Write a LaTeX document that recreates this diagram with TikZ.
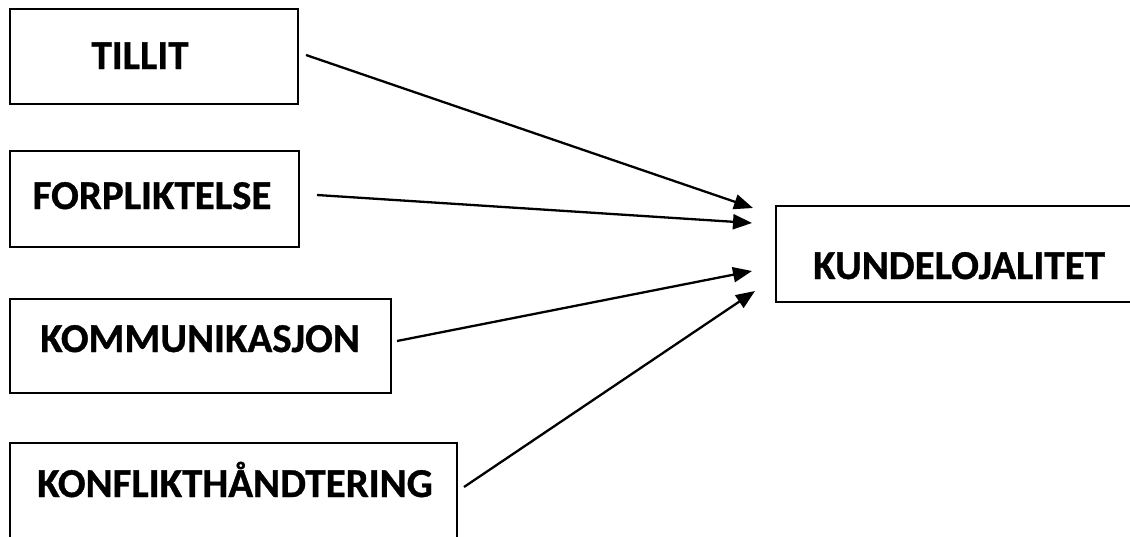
\documentclass[tikz,border=0pt]{standalone}
\usepackage{fontspec}
\setmainfont{Carlito}[BoldFeatures={FakeBold=0.8}]
\usetikzlibrary{arrows.meta}
\begin{document}
\begin{tikzpicture}[x=1pt,y=-1pt,
  box/.style={draw=black,line width=2.4pt,rectangle,inner sep=0pt,anchor=north west},
  label/.style={font=\bfseries\fontsize{41}{41}\selectfont,inner sep=0pt,anchor=base},
  link/.style={line width=2.3pt,-{Triangle[length=19pt,width=15pt]}}]
\useasboundingbox (0,0) rectangle (1130,536);
% factor boxes on the left
\node[box,minimum width=288pt,minimum height=95pt] (b1) at (9,8) {};
\node[box,minimum width=289pt,minimum height=96pt] (b2) at (9,150) {};
\node[box,minimum width=381pt,minimum height=94pt] (b3) at (9,298) {};
\node[box,minimum width=447pt,minimum height=100pt] (b4) at (9,442) {};
% outcome box on the right
\node[box,minimum width=370pt,minimum height=96pt] (b5) at (775,205) {};
% box texts
\node[label] (t1) at (140,69) {TILLIT};
\node[label] (t2) at (152,209) {FORPLIKTELSE};
\node[label] (t3) at (200,352) {KOMMUNIKASJON};
\node[label] (t4) at (235,497) {KONFLIKTHÅNDTERING};
\node[label] (t5) at (959,279) {KUNDELOJALITET};
% connector end points
\coordinate (s1) at (306,55);
\coordinate (s2) at (317,195);
\coordinate (s3) at (397,341);
\coordinate (s4) at (464,487);
\coordinate (e1) at (753,208);
\coordinate (e2) at (752,223);
\coordinate (e3) at (752,271);
\coordinate (e4) at (755,291);
\draw[link] (s1) -- (e1);
\draw[link] (s2) -- (e2);
\draw[link] (s3) -- (e3);
\draw[link] (s4) -- (e4);
\end{tikzpicture}
\end{document}
